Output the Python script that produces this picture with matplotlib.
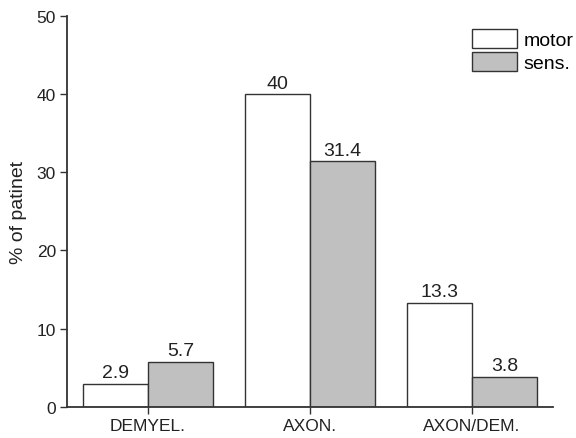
import numpy as np
import matplotlib
matplotlib.use('Agg')
import matplotlib.pyplot as plt

plt.rcParams['font.family'] = ['Liberation Sans', 'DejaVu Sans']

# data
categories = ['DEMYEL.', 'AXON.', 'AXON/DEM.']
motor = [2.9, 40, 13.3]
sens = [5.7, 31.4, 3.8]
motor_labels = ['2.9', '40', '13.3']
sens_labels = ['5.7', '31.4', '3.8']

fig = plt.figure(figsize=(5.76, 4.39), dpi=100)
ax = fig.add_axes([0.1163, 0.0713, 0.8437, 0.8897])

x = np.arange(len(categories))
w = 0.4
b1 = ax.bar(x - w/2, motor, w, color='white', edgecolor='#333333', linewidth=1, label='motor')
b2 = ax.bar(x + w/2, sens, w, color='#c0c0c0', edgecolor='#333333', linewidth=1, label='sens.')

# value labels on top of bars
for bars, labs in [(b1, motor_labels), (b2, sens_labels)]:
    for rect, lab in zip(bars, labs):
        ax.text(rect.get_x() + rect.get_width()/2, rect.get_height() + 0.35, lab,
                ha='center', va='bottom', fontsize=14, color='#222222')

ax.set_xlim(-0.5, 2.5)
ax.set_ylim(0, 50)
ax.set_yticks([0, 10, 20, 30, 40, 50])
ax.set_xticks(x)
ax.set_xticklabels(categories)
ax.set_ylabel('% of patinet', fontsize=14, color='#222222', labelpad=7)

for s in ['top', 'right']:
    ax.spines[s].set_visible(False)
for s in ['left', 'bottom']:
    ax.spines[s].set_color('#333333')
    ax.spines[s].set_linewidth(1.3)
ax.tick_params(axis='both', direction='out', length=5, width=1, color='#333333',
               labelsize=12.5, labelcolor='#222222', pad=3)

ax.legend(loc='upper left', bbox_to_anchor=(0.833, 0.967), frameon=False, fontsize=14,
          handlelength=2.3, handleheight=1.13, labelspacing=0.15, handletextpad=0.36,
          borderaxespad=0, borderpad=0)

fig.savefig('out.png', dpi=100)
